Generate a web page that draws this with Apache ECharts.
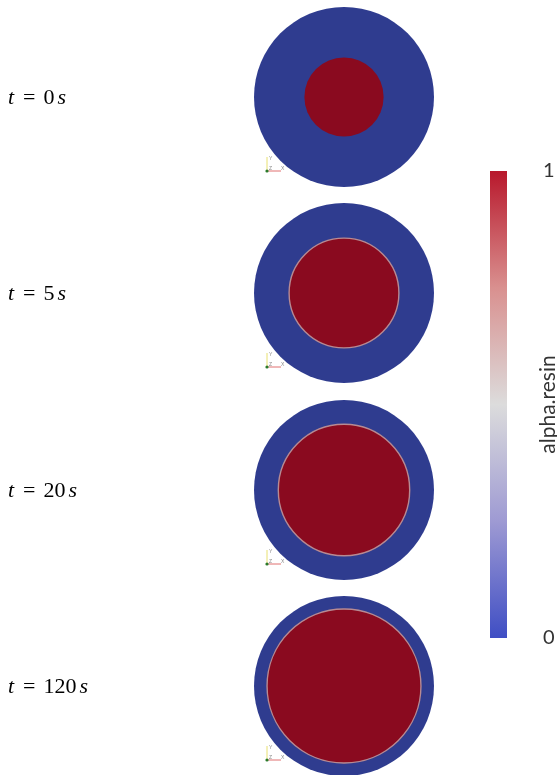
<!DOCTYPE html>
<html>
<head>
<meta charset="utf-8">
<script src="https://cdn.jsdelivr.net/npm/echarts@6/dist/echarts.min.js"></script>
<style>
  html, body { margin: 0; padding: 0; background: #fff; }
  #chart { width: 557px; height: 775px; }
</style>
</head>
<body>
<div id="chart"></div>
<script>
// Snapshot times (s) and resin front radius relative to the outer boundary
const times = [0, 5, 20, 120];
const outerRadius = [1, 1, 1, 1];
const innerRadius = [0.44, 0.61, 0.73, 0.855];
// Colour bar range of alpha.resin
const colorbarTicks = [0, 1];
const fieldName = 'alpha.resin';

const panelTops = [7, 203, 400, 596];
const panelSize = 180;
const panelLeft = 254;

const chart = echarts.init(document.getElementById('chart'), null, { renderer: 'canvas' });

const grids = [], xAxes = [], yAxes = [], series = [], graphics = [];
const serif = '"Liberation Serif", "DejaVu Serif", serif';

times.forEach((t, i) => {
  grids.push({ left: panelLeft, top: panelTops[i], width: panelSize, height: panelSize, outerBoundsMode: 'none' });
  xAxes.push({ type: 'value', gridIndex: i, min: -1, max: 1, show: false });
  yAxes.push({ type: 'value', gridIndex: i, min: -1, max: 1, show: false });
  series.push({
    type: 'custom',
    xAxisIndex: i,
    yAxisIndex: i,
    silent: true,
    data: [[0, 0, outerRadius[i], innerRadius[i], t]],
    renderItem: function (params, api) {
      const c = api.coord([api.value(0), api.value(1)]);
      const ro = api.size([api.value(2), 0])[0];
      const ri = api.size([api.value(3), 0])[0];
      const hasFront = api.value(4) > 0;
      return {
        type: 'group',
        children: [
          { type: 'circle', shape: { cx: c[0], cy: c[1], r: ro },
            style: { fill: '#2f3c8f' } },
          { type: 'circle', shape: { cx: c[0], cy: c[1], r: ri },
            style: { fill: '#8a0a1f', stroke: hasFront ? '#b88a92' : null, lineWidth: hasFront ? 1.4 : 0 } }
        ]
      };
    }
  });

  const cy = panelTops[i] + panelSize / 2;
  // time label
  graphics.push({
    type: 'text',
    left: 8,
    top: cy - 10,
    style: {
      text: '{i|t}{eq|=}{n|' + t + '}{s|s}',
      rich: {
        i: { font: 'italic 22px ' + serif, fill: '#000' },
        eq: { font: '22px ' + serif, fill: '#000', padding: [0, 8, 0, 9] },
        n: { font: '22px ' + serif, fill: '#000' },
        s: { font: 'italic 22px ' + serif, fill: '#000', padding: [0, 0, 0, 3] }
      }
    }
  });
  // orientation triad
  const ox = 267, oy = cy + 74;
  graphics.push({
    type: 'group',
    silent: true,
    children: [
      { type: 'line', shape: { x1: ox, y1: oy, x2: ox, y2: oy - 14 }, style: { stroke: '#e8e070', lineWidth: 1 } },
      { type: 'line', shape: { x1: ox, y1: oy, x2: ox + 14, y2: oy }, style: { stroke: '#e07070', lineWidth: 1 } },
      { type: 'circle', shape: { cx: ox, cy: oy, r: 1.6 }, style: { fill: '#2a7a2a' } },
      { type: 'text', x: ox + 2, y: oy - 15, style: { text: 'Y', font: '5px sans-serif', fill: '#888' } },
      { type: 'text', x: ox + 14, y: oy - 5, style: { text: 'X', font: '5px sans-serif', fill: '#888' } },
      { type: 'text', x: ox + 2, y: oy - 5, style: { text: 'Z', font: '5px sans-serif', fill: '#888' } }
    ]
  });
});

// colour bar
const cbIndex = times.length;
grids.push({ left: 490, top: 171, width: 17, height: 467, outerBoundsMode: 'none', containLabel: false });
xAxes.push({ type: 'category', gridIndex: cbIndex, data: [fieldName], show: false });
yAxes.push({
  type: 'value', gridIndex: cbIndex, position: 'right',
  min: colorbarTicks[0], max: colorbarTicks[colorbarTicks.length - 1], interval: 1,
  axisLine: { show: false }, axisTick: { show: false }, splitLine: { show: false },
  axisLabel: { margin: 36, fontSize: 20, color: '#333', fontFamily: 'Lato, "Open Sans", sans-serif', verticalAlign: 'middle' },
  name: fieldName, nameLocation: 'middle', nameRotate: 90, nameGap: 41, nameMoveOverlap: false,
  nameTextStyle: { fontSize: 21, color: '#333', fontFamily: 'Lato, "Open Sans", sans-serif', verticalAlign: 'middle' }
});
series.push({
  type: 'bar',
  xAxisIndex: cbIndex, yAxisIndex: cbIndex,
  barWidth: 17, silent: true,
  data: [colorbarTicks[colorbarTicks.length - 1]],
  itemStyle: {
    color: new echarts.graphic.LinearGradient(0, 0, 0, 1, [
      { offset: 0, color: '#b8182c' },
      { offset: 0.25, color: '#d9908f' },
      { offset: 0.5, color: '#dcdcdc' },
      { offset: 0.75, color: '#9e9ad3' },
      { offset: 1, color: '#3f4ec4' }
    ])
  }
});

chart.setOption({
  animation: false,
  backgroundColor: '#fff',
  grid: grids,
  xAxis: xAxes,
  yAxis: yAxes,
  series: series,
  graphic: graphics
});
</script>
</body>
</html>
